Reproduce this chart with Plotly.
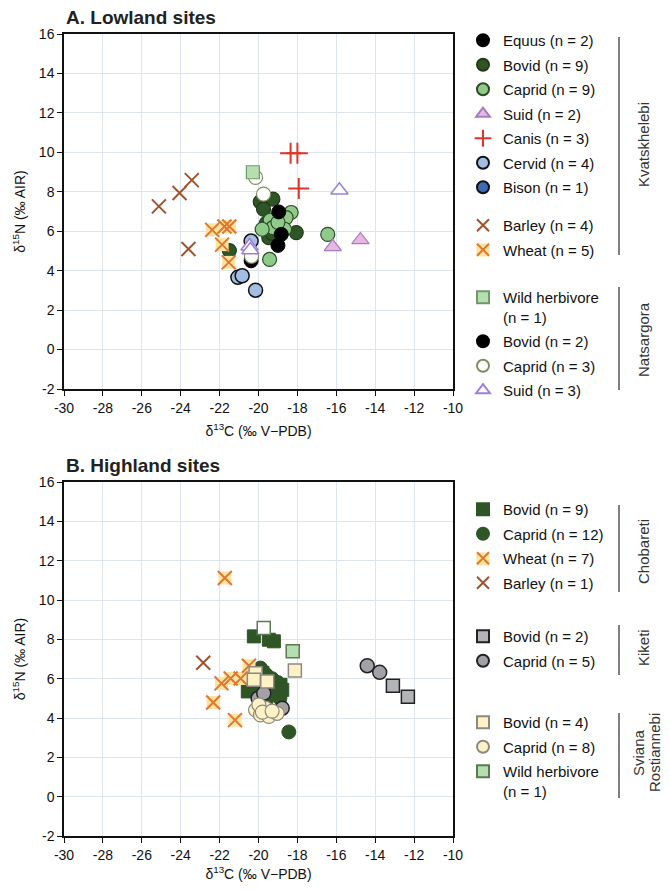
import plotly.graph_objects as go

# ---------------- DATA ----------------
x_ticks = [-30, -28, -26, -24, -22, -20, -18, -16, -14, -12, -10]
x_ticktext = ["-30", "-28", "-26", "-24", "-22", "-20", "-18", "-16", "-14", "-12", "-10"]
y_ticks = [-2, 0, 2, 4, 6, 8, 10, 12, 14, 16]
y_ticktext = ["-2", "0", "2", "4", "6", "8", "10", "12", "14", "16"]

# Panel A - Kvatskhelebi
kv_equus_x = [-18.96, -18.83]
kv_equus_y = [6.98, 5.84]
kv_bovid_x = [-19.91, -19.26, -19.74, -18.06, -19.47, -21.50, -19.60, -19.10, -19.30]
kv_bovid_y = [7.49, 7.63, 7.12, 5.93, 5.67, 5.02, 6.40, 6.60, 5.90]
kv_caprid_x = [-18.32, -18.58, -19.40, -19.26, -19.81, -18.66, -19.43, -16.44, -19.00]
kv_caprid_y = [6.95, 6.69, 6.56, 6.18, 6.10, 6.10, 4.57, 5.84, 6.45]
kv_suid_x = [-16.18, -14.76]
kv_suid_y = [5.21, 5.56]
kv_canis_x = [-18.35, -18.00, -17.93]
kv_canis_y = [9.95, 9.95, 8.17]
kv_cervid_x = [-21.06, -20.84, -20.15, -20.38]
kv_cervid_y = [3.66, 3.74, 3.01, 5.50]
kv_bison_x = [-19.20]
kv_bison_y = [6.30]
kv_barley_x = [-23.43, -24.06, -25.12, -23.60]
kv_barley_y = [8.59, 7.94, 7.26, 5.10]
kv_wheat_x = [-22.38, -21.75, -21.50, -21.87, -21.53]
kv_wheat_y = [6.07, 6.24, 6.24, 5.32, 4.42]
# Panel A - Natsargora
na_wild_x = [-20.29]
na_wild_y = [8.99]
na_bovid_x = [-19.00, -20.38]
na_bovid_y = [5.28, 4.50]
na_caprid_x = [-20.15, -19.74, -20.36]
na_caprid_y = [8.73, 7.88, 4.73]
na_suid_x = [-20.46, -15.84, -20.42]
na_suid_y = [5.24, 8.08, 5.05]

# Panel B - Chobareti
ch_bovid_x = [-20.24, -19.47, -19.21, -20.55, -18.87, -18.78, -19.30, -19.80, -20.20]
ch_bovid_y = [8.15, 7.98, 7.90, 5.35, 5.69, 5.43, 5.30, 6.30, 5.60]
ch_open_x = [-19.73]
ch_open_y = [8.57]
ch_caprid_x = [-19.90, -19.60, -19.30, -19.00, -19.40, -19.80, -20.30, -19.10, -18.90, -19.60, -20.30, -18.44]
ch_caprid_y = [6.54, 6.20, 6.00, 5.80, 5.50, 5.50, 5.90, 5.20, 5.00, 4.90, 5.60, 3.29]
ch_wheat_x = [-21.73, -20.49, -21.90, -21.43, -20.92, -22.33, -21.21]
ch_wheat_y = [11.12, 6.66, 5.76, 6.01, 6.01, 4.79, 3.89]
ch_barley_x = [-22.84]
ch_barley_y = [6.81]
# Panel B - Kiketi
ki_bovid_x = [-13.09, -12.32]
ki_bovid_y = [5.64, 5.08]
ki_caprid_x = [-14.41, -13.77, -20.02, -19.73, -18.78]
ki_caprid_y = [6.66, 6.32, 5.00, 5.26, 4.50]
# Panel B - Sviana Rostiannebi
sv_bovid_x = [-18.13, -20.15, -20.24, -19.55]
sv_bovid_y = [6.42, 6.28, 5.94, 5.86]
sv_caprid_x = [-20.15, -19.64, -19.90, -19.47, -19.04, -19.98, -19.80, -19.30]
sv_caprid_y = [4.41, 4.50, 4.16, 4.08, 4.24, 4.67, 4.30, 4.35]
sv_wild_x = [-18.24]
sv_wild_y = [7.39]

# ---------------- LAYOUT HELPERS ----------------
PAGE_OFF = 8  # browser body margin
W, H = 670 - PAGE_OFF, 890 - 2 * PAGE_OFF
ML, MT = 64 - PAGE_OFF, 34 - PAGE_OFF
MR = W - (453 - PAGE_OFF)
MB = H - (836 - PAGE_OFF)
PW, PH = W - ML - MR, H - MT - MB


def pxx(p):
    """page pixel x -> paper x"""
    return (p - PAGE_OFF - ML) / PW


def pxy(p):
    """page pixel y -> paper y"""
    return (H - MB - (p - PAGE_OFF)) / PH


FONT = "Liberation Sans, Arial, sans-serif"
DARKG = "#2f5526"
LIGHTG = "#8fcb88"
WHEAT_C = "#e0772f"
WHEAT_BG = "#fde3a0"
BARLEY_C = "#a0522d"

fig = go.Figure()
_counter = [0]


def add(x, y, name, symbol, color, lcolor, lwidth, size, axis, legend, rank, showlegend=True):
    xa, ya = ("x", "y") if axis == 1 else ("x2", "y2")
    _counter[0] += 1
    fig.add_trace(go.Scatter(
        x=x, y=y, mode="markers", name=name, xaxis=xa, yaxis=ya,
        legend=legend, legendrank=rank, showlegend=showlegend,
        legendgroup="g%d" % _counter[0],
        marker=dict(symbol=symbol, color=color, size=size,
                    line=dict(color=lcolor, width=lwidth)),
        hoverinfo="x+y+name"))


# Panel A traces (draw order)
add(kv_cervid_x, kv_cervid_y, "Cervid (n = 4)", "circle", "#a3bde3", "#111", 1.5, 14, 1, "legend", 6)
add(kv_bison_x, kv_bison_y, "Bison (n = 1)", "circle", "#3d6ab3", "#111", 1.5, 14, 1, "legend", 7)
add(kv_bovid_x, kv_bovid_y, "Bovid (n = 9)", "circle", DARKG, "#1e3a18", 1.2, 14, 1, "legend", 2)
add(kv_caprid_x, kv_caprid_y, "Caprid (n = 9)", "circle", LIGHTG, "#2d4a28", 1.2, 14, 1, "legend", 3)
add(kv_equus_x, kv_equus_y, "Equus (n = 2)", "circle", "#000000", "#000000", 1, 14, 1, "legend", 1)
add(na_bovid_x, na_bovid_y, "Bovid (n = 2)", "circle", "#000000", "#000000", 1, 14, 1, "legend3", 2)
add(na_caprid_x, na_caprid_y, "Caprid (n = 3)", "circle", "#ffffff", "#7d8f5f", 1.2, 14, 1, "legend3", 3)
add(kv_suid_x, kv_suid_y, "Suid (n = 2)", "triangle-up", "#e6b8df", "#a67cc0", 1.2, 15, 1, "legend", 4)
add(na_suid_x, na_suid_y, "Suid (n = 3)", "triangle-up", "#ffffff", "#9c80d6", 1.5, 15, 1, "legend3", 4)
add(kv_canis_x, kv_canis_y, "Canis (n = 3)", "cross-thin", "#e0342a", "#e0342a", 2, 15, 1, "legend", 5)
add(kv_barley_x, kv_barley_y, "Barley (n = 4)", "x-thin", BARLEY_C, BARLEY_C, 2, 14, 1, "legend2", 1)
add(kv_wheat_x, kv_wheat_y, "wheat bg", "square", WHEAT_BG, WHEAT_BG, 0, 13, 1, "legend2", 9, showlegend=False)
add(kv_wheat_x, kv_wheat_y, "Wheat (n = 5)", "x-thin", WHEAT_C, WHEAT_C, 2, 14, 1, "legend2", 2)
add(na_wild_x, na_wild_y, "Wild herbivore<br>(n = 1)", "square", "#b5dfb0", "#6f9a66", 1.2, 13, 1, "legend3", 1)

# Panel B traces
add(ch_caprid_x, ch_caprid_y, "Caprid (n = 12)", "circle", DARKG, DARKG, 1, 14, 2, "legend4", 2)
add(ch_bovid_x, ch_bovid_y, "Bovid (n = 9)", "square", DARKG, DARKG, 1, 13, 2, "legend4", 1)
add(ch_open_x, ch_open_y, "Bovid", "square", "#ffffff", "#5a7a50", 1.5, 13, 2, "legend4", 9, showlegend=False)
add(ki_caprid_x, ki_caprid_y, "Caprid (n = 5)", "circle", "#a2a2a6", "#222", 1.5, 14, 2, "legend5", 2)
add(ki_bovid_x, ki_bovid_y, "Bovid (n = 2)", "square", "#b3b4b8", "#222", 1.5, 13, 2, "legend5", 1)
add(sv_caprid_x, sv_caprid_y, "Caprid (n = 8)", "circle", "#fff1c6", "#8a8a80", 1.2, 14, 2, "legend6", 2)
add(sv_wild_x, sv_wild_y, "Wild herbivore<br>(n = 1)", "square", "#b5dfb0", "#5a7a50", 1.5, 13, 2, "legend6", 3)
add(ch_wheat_x, ch_wheat_y, "wheat bg", "square", WHEAT_BG, WHEAT_BG, 0, 13, 2, "legend4", 9, showlegend=False)
add(ch_wheat_x, ch_wheat_y, "Wheat (n = 7)", "x-thin", WHEAT_C, WHEAT_C, 2, 14, 2, "legend4", 3)
add(ch_barley_x, ch_barley_y, "Barley (n = 1)", "x-thin", BARLEY_C, BARLEY_C, 2, 14, 2, "legend4", 4)
add(sv_bovid_x, sv_bovid_y, "Bovid (n = 4)", "square", "#fff1c6", "#8a8a80", 1.5, 13, 2, "legend6", 1)

axis_common = dict(
    showgrid=True, gridcolor="#dde4ef", gridwidth=1, zeroline=False, automargin=False,
    showline=True, linecolor="#111", linewidth=1.5, mirror=True,
    ticks="outside", ticklen=5, tickcolor="#111", tickwidth=1.2,
    tickfont=dict(family=FONT, size=14, color="#111"),
)

xa = dict(axis_common, range=[-30, -10], tickvals=x_ticks, ticktext=x_ticktext,
          title=dict(text="δ<sup>13</sup>C (‰ V−PDB)", font=dict(family=FONT, size=14, color="#111"), standoff=12))
ya = dict(axis_common, range=[-2, 16], tickvals=y_ticks, ticktext=y_ticktext,
          title=dict(text="δ<sup>15</sup>N (‰ AIR)", font=dict(family=FONT, size=14, color="#111"), standoff=10))

leg_common = dict(font=dict(family=FONT, size=15, color="#111"), bgcolor="rgba(0,0,0,0)",
                  itemsizing="constant", traceorder="grouped", xanchor="left", yanchor="top",
                  valign="top", tracegroupgap=2)

LEG_X = pxx(463)
OFF = 17


def leg(first_center):
    return dict(leg_common, x=LEG_X, y=pxy(first_center - OFF))


layout = dict(
    width=W, height=H, margin=dict(l=ML, r=MR, t=MT, b=MB, autoexpand=False),
    plot_bgcolor="white", paper_bgcolor="white",
    xaxis=dict(xa, domain=[0, 1], anchor="y"),
    yaxis=dict(ya, domain=[pxy(389), 1], anchor="x"),
    xaxis2=dict(xa, domain=[0, 1], anchor="y2"),
    yaxis2=dict(ya, domain=[0, pxy(482)], anchor="x2"),
    legend=leg(41), legend2=leg(226), legend3=leg(298),
    legend4=leg(510), legend5=leg(637), legend6=leg(723),
)
fig.update_layout(**layout)

# Titles
ann = [
    dict(text="<b>A. Lowland sites</b>", x=pxx(64), y=pxy(18), xanchor="left", yanchor="middle"),
    dict(text="<b>B. Highland sites</b>", x=pxx(64), y=pxy(465), xanchor="left", yanchor="middle"),
]
for a in ann:
    fig.add_annotation(xref="paper", yref="paper", showarrow=False,
                       font=dict(family=FONT, size=19, color="#222"), **a)

groups = [
    ("Kvatskhelebi", 37, 255, 643, 145),
    ("Natsargora", 287, 390, 643, 340),
    ("Chobareti", 505, 592, 643, 552),
    ("Kiketi", 625, 675, 643, 648),
]
for label, y0, y1, xc, yc in groups:
    fig.add_shape(type="line", xref="paper", yref="paper", x0=pxx(619), x1=pxx(619),
                  y0=pxy(y0), y1=pxy(y1), line=dict(color="#555", width=1.5))
    fig.add_annotation(xref="paper", yref="paper", x=pxx(xc), y=pxy(yc), text=label,
                       textangle=-90, showarrow=False, xanchor="center", yanchor="middle",
                       font=dict(family=FONT, size=15, color="#333"))
# Sviana Rostiannebi (two rotated lines)
fig.add_shape(type="line", xref="paper", yref="paper", x0=pxx(619), x1=pxx(619),
              y0=pxy(713), y1=pxy(798), line=dict(color="#555", width=1.5))
for label, xc in (("Sviana", 638), ("Rostiannebi", 654)):
    fig.add_annotation(xref="paper", yref="paper", x=pxx(xc), y=pxy(753), text=label,
                       textangle=-90, showarrow=False, xanchor="center", yanchor="middle",
                       font=dict(family=FONT, size=15, color="#333"))

# Yellow backgrounds behind legend wheat symbols
for yc in (250, 559):
    fig.add_shape(type="rect", xref="paper", yref="paper", xsizemode="pixel", ysizemode="pixel",
                  xanchor=pxx(483), yanchor=pxy(yc), x0=-6.5, x1=6.5, y0=-6.5, y1=6.5,
                  fillcolor=WHEAT_BG, line=dict(width=0), layer="above")

fig.write_html("out.html")
